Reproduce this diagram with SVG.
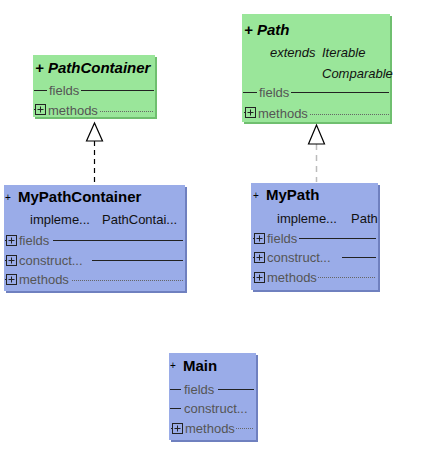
<svg xmlns="http://www.w3.org/2000/svg" width="426" height="470" viewBox="0 0 426 470">
<defs>
<style>
.g{fill:#9ae69a}
.gs{fill:#6fbf6f}
.b{fill:#9aace8}
.bs{fill:#6f80bf}
.t{font-family:"Liberation Sans",Arial,sans-serif;font-size:15px;font-weight:bold;fill:#000}
.ti{font-style:italic}
.p{font-family:"Liberation Sans",Arial,sans-serif;font-size:10px;fill:#000}
.s{font-family:"Liberation Sans",Arial,sans-serif;font-size:13px;fill:#555}
.k{font-family:"Liberation Sans",Arial,sans-serif;font-size:13px;fill:#111}
.ln{stroke:#222;stroke-width:1;fill:none}
.dt{stroke:#666;stroke-width:1;stroke-dasharray:1,1;fill:none}
.pb{fill:none;stroke:#222;stroke-width:1}
</style>
<g id="plus">
<rect class="pb" x="0.5" y="0.5" width="10" height="10"/>
<path class="ln" d="M2.5 5.5H8.5M5.5 2.5V8.5M-1 5.5H0.5"/>
</g>
</defs>
<rect width="426" height="470" fill="#fff"/>

<g id="PathContainer">
<rect class="gs" x="35" y="57" width="122" height="62"/>
<rect class="g" x="33" y="55" width="122" height="62"/>
<text class="t ti" x="35" y="73">+ PathContainer</text>
<path class="ln" d="M34 90.5H47M81 90.5H154"/>
<text class="s" x="49" y="95">fields</text>
<use href="#plus" x="35" y="104"/>
<text class="s" x="48" y="115">methods</text>
<path class="dt" d="M100 111.5H154"/>
</g>

<g id="Path">
<rect class="gs" x="244" y="16" width="148" height="108"/>
<rect class="g" x="242" y="14" width="148" height="108"/>
<text class="t ti" x="244" y="35">+ Path</text>
<text class="k ti" x="270" y="57">extends</text>
<text class="k ti" x="322" y="57">Iterable</text>
<text class="k ti" x="322" y="78">Comparable</text>
<path class="ln" d="M243 92.5H257M291 92.5H389"/>
<text class="s" x="259" y="97">fields</text>
<use href="#plus" x="245" y="107"/>
<text class="s" x="258" y="118">methods</text>
<path class="dt" d="M310 114.5H389"/>
</g>

<g id="MyPathContainer">
<rect class="bs" x="6" y="187" width="181" height="106"/>
<rect class="b" x="4" y="185" width="181" height="106"/>
<text class="p" x="5" y="201">+</text>
<text class="t" x="18" y="202">MyPathContainer</text>
<text class="k" x="30" y="224">impleme...</text>
<text class="k" x="102" y="224">PathContai...</text>
<use href="#plus" x="6" y="235"/>
<text class="s" x="19" y="245">fields</text>
<path class="ln" d="M53 240.5H183"/>
<use href="#plus" x="6" y="255"/>
<text class="s" x="19" y="265">construct...</text>
<path class="ln" d="M92 260.5H183"/>
<use href="#plus" x="6" y="274"/>
<text class="s" x="19" y="284">methods</text>
<path class="dt" d="M72 280.5H183"/>
</g>

<g id="MyPath">
<rect class="bs" x="253" y="185" width="127" height="107"/>
<rect class="b" x="251" y="183" width="127" height="107"/>
<text class="p" x="253" y="199">+</text>
<text class="t" x="266" y="200">MyPath</text>
<text class="k" x="277" y="223">impleme...</text>
<text class="k" x="351" y="223">Path</text>
<use href="#plus" x="254" y="233"/>
<text class="s" x="267" y="243">fields</text>
<path class="ln" d="M299 238.5H376"/>
<use href="#plus" x="254" y="252"/>
<text class="s" x="267" y="262">construct...</text>
<path class="ln" d="M342 257.5H376"/>
<use href="#plus" x="254" y="272"/>
<text class="s" x="267" y="282">methods</text>
<path class="dt" d="M318 277.5H376"/>
</g>

<g id="Main">
<rect class="bs" x="171" y="355" width="87" height="87"/>
<rect class="b" x="169" y="353" width="87" height="87"/>
<text class="p" x="170" y="369">+</text>
<text class="t" x="183" y="371">Main</text>
<path class="ln" d="M170 389.5H181M218 389.5H254"/>
<text class="s" x="184" y="394">fields</text>
<path class="ln" d="M170 408.5H181"/>
<text class="s" x="184" y="413">construct...</text>
<use href="#plus" x="172" y="423"/>
<text class="s" x="185" y="433">methods</text>
<path class="dt" d="M236 428.5H254"/>
</g>

<g id="connectors">
<path d="M94.5 141V185" stroke="#000" stroke-width="1.2" stroke-dasharray="5,4" fill="none"/>
<path d="M94.5 123L86.5 141H102.5Z" fill="#fff" stroke="#000" stroke-width="1.2"/>
<path d="M316.5 144V182" stroke="#bbb" stroke-width="1.5" stroke-dasharray="6,5" fill="none"/>
<path d="M316.5 125L308.5 144H324.5Z" fill="#fff" stroke="#000" stroke-width="1.2"/>
</g>
</svg>
